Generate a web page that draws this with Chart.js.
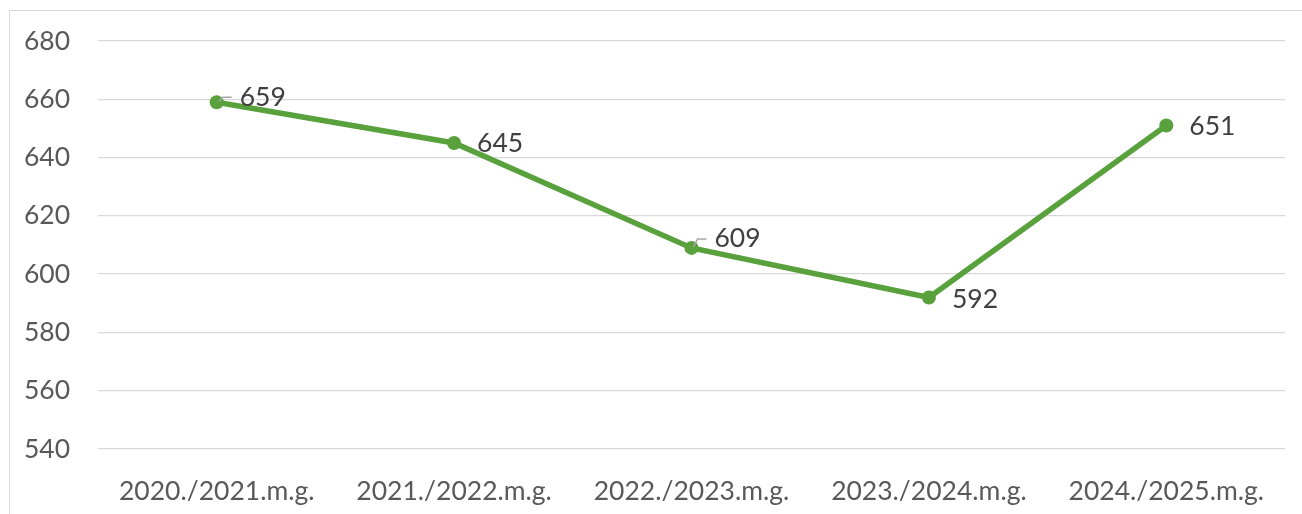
<!DOCTYPE html>
<html>
<head>
<meta charset="utf-8">
<script src="https://cdn.jsdelivr.net/npm/chart.js@4.4.1/dist/chart.umd.min.js"></script>
<style>
  html, body { margin: 0; padding: 0; background: #fff; }
  #wrap { position: relative; width: 1302px; height: 514px; overflow: hidden; }
  #frame { position: absolute; left: 9px; top: 10px; width: 1400px; height: 600px; border: 1px solid #d9d9d9; box-sizing: border-box; }
  canvas { position: absolute; left: 0; top: 0; }
</style>
</head>
<body>
<div id="wrap">
  <div id="frame"></div>
  <canvas id="chart" width="1302" height="514"></canvas>
</div>
<script>
const years = ['2020./2021.m.g.', '2021./2022.m.g.', '2022./2023.m.g.', '2023./2024.m.g.', '2024./2025.m.g.'];
const pupils = [659, 645, 609, 592, 651];
const yTicks = [540, 560, 580, 600, 620, 640, 660, 680];

// where each value label sits relative to its point (dy in px), and whether it has a leader line
const labelShift = [-5, 0, -9, 2, 1];
const hasLeader = [true, false, true, false, false];

const fontName = 'Lato, "Open Sans", sans-serif';

const valueLabels = {
  id: 'valueLabels',
  afterDatasetsDraw(chart) {
    const ctx = chart.ctx;
    const meta = chart.getDatasetMeta(0);
    ctx.save();
    ctx.font = '26.5px ' + fontName;
    ctx.fillStyle = '#404040';
    ctx.textAlign = 'left';
    ctx.textBaseline = 'middle';
    meta.data.forEach((pt, i) => {
      const x = pt.x, y = pt.y;
      const ly = y + labelShift[i];
      if (hasLeader[i]) {
        ctx.strokeStyle = '#a6a6a6';
        ctx.lineWidth = 1.5;
        ctx.beginPath();
        ctx.moveTo(x + 2, y - 1);
        ctx.lineTo(x + 6, ly);
        ctx.lineTo(x + 15, ly);
        ctx.stroke();
      }
      ctx.fillText(String(chart.data.datasets[0].data[i]), x + 23, ly);
    });
    ctx.restore();
  }
};

new Chart(document.getElementById('chart'), {
  type: 'line',
  data: {
    labels: years,
    datasets: [{
      data: pupils,
      borderColor: '#58a13c',
      backgroundColor: '#58a13c',
      borderWidth: 5.5,
      pointRadius: 7,
      pointHoverRadius: 7,
      pointBackgroundColor: '#58a13c',
      pointBorderWidth: 0,
      tension: 0
    }]
  },
  options: {
    responsive: false,
    animation: false,
    layout: { padding: { left: 0, top: 41, right: 17, bottom: 0 } },
    plugins: { legend: { display: false }, tooltip: { enabled: false } },
    scales: {
      x: {
        offset: true,
        grid: { display: false, drawTicks: false },
        border: { display: false },
        ticks: { color: '#595959', font: { family: fontName, size: 26.5 }, padding: 27, maxRotation: 0 },
        afterFit(scale) { scale.height = 65; scale.paddingLeft = 0; scale.paddingRight = 0; }
      },
      y: {
        min: 540,
        max: 680,
        afterBuildTicks(scale) { scale.ticks = yTicks.map(v => ({ value: v })); },
        grid: { color: '#d9d9d9', lineWidth: 1.3, drawTicks: false },
        border: { display: false },
        ticks: { color: '#595959', font: { family: fontName, size: 26.5 }, padding: 28 },
        afterFit(scale) { scale.width = 98; scale.paddingTop = 0; scale.paddingBottom = 0; }
      }
    }
  },
  plugins: [valueLabels]
});
</script>
</body>
</html>
